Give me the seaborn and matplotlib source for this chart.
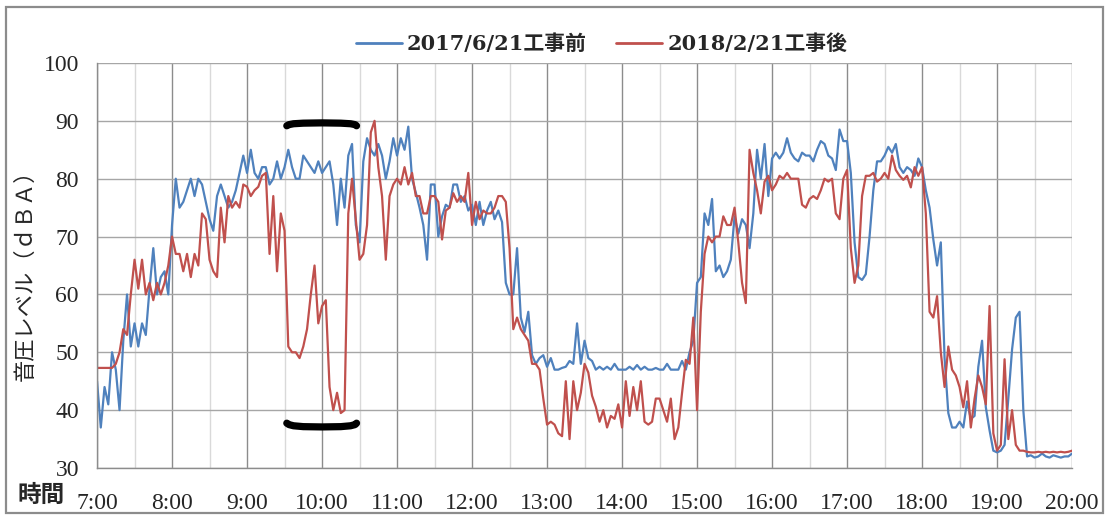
import numpy as np
import pandas as pd
import matplotlib
matplotlib.use("Agg")
import matplotlib.pyplot as plt
import seaborn as sns
from matplotlib.lines import Line2D
from matplotlib.patches import Rectangle
from matplotlib.font_manager import FontProperties

# samples every 3 minutes from 7:00 to 20:00
minutes = np.arange(0, 781, 3)
hours = 7 + minutes / 60.0

series_names = ["2017/6/21工事前", "2018/2/21工事後"]

before_2017 = [
    45, 37, 44, 41, 50, 47, 40, 52, 60, 51, 55, 51, 55, 53, 61, 68, 60, 63, 64, 60,          # 7時
    72, 80, 75, 76, 78, 80, 77, 80, 79, 76, 73, 71, 77, 79, 77, 75, 76, 78, 81, 84,          # 8時
    81, 85, 81, 80, 82, 82, 79, 80, 83, 80, 82, 85, 82, 80, 80, 84, 83, 82, 81, 83,          # 9時
    81, 82, 83, 79, 72, 80, 75, 84, 86, 72, 69, 83, 87, 85, 84, 86, 84, 80, 83, 87,          # 10時
    84, 87, 85, 89, 80, 77.6, 75, 72, 66, 79, 79, 70, 73.5, 75.5, 75, 79, 79, 76, 77, 74.5,  # 11時
    75.5, 72, 76, 72, 74.5, 76, 73, 74.5, 72.5, 62, 60, 60, 68, 56, 53.5, 57, 49.5, 48, 49, 49.5,
    47.5, 49, 47, 47, 47.3, 47.5, 48.5, 48, 55, 48, 52, 49, 48.5, 47, 47.5, 47, 47.5, 47, 48, 47,
    47, 47, 47.5, 47, 47.8, 47, 47.5, 47, 47, 47.3, 47, 47, 48, 47, 47, 47, 48.5, 47, 50, 52,
    62, 63, 74, 72, 76.5, 64, 65, 63, 64, 66, 73.5, 70.5, 73, 72, 68, 74, 85, 80, 86, 77,
    83.5, 84.5, 83.5, 84.5, 87, 84.5, 83.5, 83, 84.5, 84, 84, 83, 85, 86.5, 86, 84, 83.5, 81.5, 88.5, 86.5,
    86.5, 81, 69, 63, 62.5, 63.5, 70, 78, 83, 83, 84, 85.5, 84.5, 86, 82, 81, 82, 81.5, 80.5, 83.5,
    82, 78, 75, 69.5, 65, 69, 49, 39.5, 37, 37, 38, 37, 41.5, 38.5, 39, 47.5, 52, 40.5, 36.5, 33,
    32.7, 33, 34, 42, 50.5, 56, 57, 40, 32, 32.2, 31.8, 32, 32.5, 32, 31.8, 32.2, 32, 31.8, 32, 32,
    32.5,
]

after_2018 = [
    47.3, 47.3, 47.3, 47.3, 47.3, 48, 50, 54, 53, 60, 66, 61, 66, 60, 62, 59, 62, 60, 62, 65,
    70, 67, 67, 64, 67, 63, 67, 65, 74, 73, 66, 64, 63, 75, 69, 77, 75, 76, 75, 79,
    78.6, 77, 78, 78.6, 80.5, 81, 67, 77, 64, 74, 71, 51, 50, 50, 49, 51, 54, 60, 65, 55,
    58, 59, 44, 40, 43, 39.5, 40, 74, 80, 73, 66, 67, 72, 88, 90, 82, 77, 66, 77, 79,
    80, 79, 82, 79, 81, 77, 77, 74, 74, 77, 77, 76, 69.5, 74.5, 75, 77.5, 76, 77, 76, 81,
    72, 76, 73, 74.5, 74, 74, 75, 77, 77, 76, 68, 54, 56, 54, 53, 52, 48, 48, 47, 42,
    37.5, 38, 37.5, 36, 35.5, 45, 35, 45, 40, 43, 48, 46.5, 42.5, 40.6, 38, 40, 37, 39, 38.5, 41,
    37, 45, 39, 44, 40, 45, 38, 37.5, 38, 42, 42, 40, 38, 42, 35, 37, 43, 48.7, 48, 56,
    40, 57, 67, 70, 69, 70, 70, 73.5, 72, 72, 75, 69, 62, 58.5, 85, 81, 78, 74, 79.5, 80.5,
    78, 79, 80.5, 80, 81, 80, 80, 80, 75.5, 75, 76.5, 77, 76.5, 78, 80, 79.5, 80, 74, 73, 80,
    81.5, 68, 62, 65, 77, 80.5, 80.5, 81, 79.5, 80, 81, 80, 84, 81.5, 80.5, 79.8, 80.5, 78.5, 82, 80.5,
    82, 74, 57, 56, 59.7, 50, 44, 51, 47, 46, 44, 40.5, 45, 37, 42, 46, 44, 41, 58, 36,
    33, 34, 48.8, 35, 40, 34, 33, 33, 32.8, 32.7, 32.7, 32.8, 32.7, 32.8, 32.7, 32.8, 32.7, 32.8, 32.7, 32.8,
    33,
]

hour_ticks = list(range(7, 21))
hour_labels = [f"{h}:00" for h in hour_ticks]
level_ticks = [30, 40, 50, 60, 70, 80, 90, 100]

# black brackets marking the construction-noise interval
bracket_x = [9.53, 9.56, 9.62, 9.75, 10.0, 10.25, 10.38, 10.44, 10.46]
bracket_top_y = [89.15, 89.35, 89.5, 89.6, 89.65, 89.6, 89.5, 89.35, 89.15]
bracket_bottom_y = [37.75, 37.5, 37.3, 37.15, 37.1, 37.15, 37.3, 37.5, 37.75]

df = pd.DataFrame({
    "hour": np.concatenate([hours, hours]),
    "level": np.array(before_2017 + after_2018, dtype=float),
    "series": [series_names[0]] * len(hours) + [series_names[1]] * len(hours),
})

blue = "#4F81BD"
red = "#C0504D"

sns.set_style("white")
plt.rcParams["font.family"] = ["Liberation Serif", "Noto Sans CJK JP"]

fig = plt.figure(figsize=(11.09, 5.18), dpi=100)
ax = fig.add_axes([0.0875, 0.0965, 0.8792, 0.7819])

sns.lineplot(data=df, x="hour", y="level", hue="series", palette=[blue, red],
             linewidth=1.6, ax=ax, legend=False, estimator=None)

ax.plot(bracket_x, bracket_top_y, color="black", linewidth=5.2, solid_capstyle="round", zorder=5)
ax.plot(bracket_x, bracket_bottom_y, color="black", linewidth=5.2, solid_capstyle="round", zorder=5)

ax.set_xlim(7, 20)
ax.set_ylim(30, 100)
ax.set_xticks(hour_ticks)
ax.set_xticklabels(hour_labels)
ax.set_xticks(np.arange(7.5, 20, 1.0), minor=True)
ax.set_yticks(level_ticks)
ax.set_xlabel("")
ax.set_ylabel("")

ax.grid(which="major", axis="x", color="#8c8c8c", linewidth=1.0)
ax.grid(which="minor", axis="x", color="#d9d9d9", linewidth=1.0)
ax.grid(which="major", axis="y", color="#a6a6a6", linewidth=1.0)
ax.set_axisbelow(True)

for side in ["top", "right"]:
    ax.spines[side].set_visible(False)
for side in ["left", "bottom"]:
    ax.spines[side].set_color("#8c8c8c")
    ax.spines[side].set_linewidth(1.0)

ax.tick_params(axis="x", which="major", direction="out", length=5, width=1.0,
               color="#8c8c8c", pad=13, labelsize=17)
ax.tick_params(axis="x", which="minor", length=0)
ax.tick_params(axis="y", direction="out", length=5, width=1.0,
               color="#8c8c8c", pad=8, labelsize=17)

# legend at the top
leg_font = FontProperties(family=["DejaVu Serif", "Noto Sans CJK JP"], weight="bold", size=15)
handles = [Line2D([0], [0], color=blue, linewidth=2), Line2D([0], [0], color=red, linewidth=2)]
fig.legend(handles, series_names, loc="center", bbox_to_anchor=(0.5425, 0.915), ncol=2,
           frameon=False, prop=leg_font, handlelength=2.2, handletextpad=0.25,
           columnspacing=1.4)

fig.text(0.023, 0.48, "音圧レベル（ｄＢＡ）", rotation=90, ha="center", va="center",
         fontsize=16, family=["Noto Sans CJK JP"])
fig.text(0.037, 0.044, "時間", ha="center", va="center", fontsize=17,
         family=["Noto Sans CJK JP"], weight="bold")

# outer chart frame
fig.patches.append(Rectangle((0.0054, 0.0097), 0.9892, 0.9768, transform=fig.transFigure,
                             fill=False, edgecolor="#8c8c8c", linewidth=1.6))

fig.savefig("out.png", dpi=100)
plt.close(fig)
